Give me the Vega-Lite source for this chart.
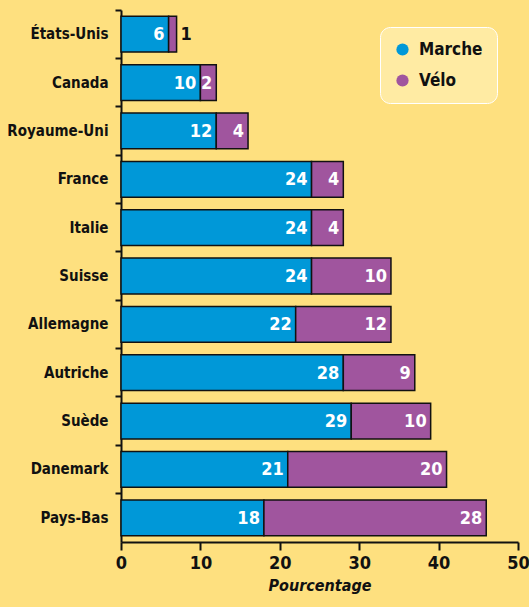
{
  "$schema": "https://vega.github.io/schema/vega-lite/v6.json",
  "autosize": "none",
  "padding": {"left": 121, "top": 10, "right": 11, "bottom": 65},
  "width": 397,
  "height": 532,
  "background": "#FEE07F",
  "config": {
    "view": {"stroke": null},
    "font": "DejaVu Sans Condensed, Liberation Sans Narrow, sans-serif",
    "axis": {"domainColor": "#111", "tickColor": "#111", "labelColor": "#111", "titleColor": "#111", "grid": false}
  },
  "data": {
    "values": [
      {"pays": "États-Unis", "mode": "Marche", "valeur": 6},
      {"pays": "États-Unis", "mode": "Vélo", "valeur": 1},
      {"pays": "Canada", "mode": "Marche", "valeur": 10},
      {"pays": "Canada", "mode": "Vélo", "valeur": 2},
      {"pays": "Royaume-Uni", "mode": "Marche", "valeur": 12},
      {"pays": "Royaume-Uni", "mode": "Vélo", "valeur": 4},
      {"pays": "France", "mode": "Marche", "valeur": 24},
      {"pays": "France", "mode": "Vélo", "valeur": 4},
      {"pays": "Italie", "mode": "Marche", "valeur": 24},
      {"pays": "Italie", "mode": "Vélo", "valeur": 4},
      {"pays": "Suisse", "mode": "Marche", "valeur": 24},
      {"pays": "Suisse", "mode": "Vélo", "valeur": 10},
      {"pays": "Allemagne", "mode": "Marche", "valeur": 22},
      {"pays": "Allemagne", "mode": "Vélo", "valeur": 12},
      {"pays": "Autriche", "mode": "Marche", "valeur": 28},
      {"pays": "Autriche", "mode": "Vélo", "valeur": 9},
      {"pays": "Suède", "mode": "Marche", "valeur": 29},
      {"pays": "Suède", "mode": "Vélo", "valeur": 10},
      {"pays": "Danemark", "mode": "Marche", "valeur": 21},
      {"pays": "Danemark", "mode": "Vélo", "valeur": 20},
      {"pays": "Pays-Bas", "mode": "Marche", "valeur": 18},
      {"pays": "Pays-Bas", "mode": "Vélo", "valeur": 28}
    ]
  },
  "transform": [
    {"stack": "valeur", "groupby": ["pays"], "sort": [{"field": "mode", "order": "ascending"}], "as": ["x0", "x1"]}
  ],
  "encoding": {
    "y": {
      "field": "pays", "type": "nominal", "sort": null,
      "scale": {"paddingInner": 0, "paddingOuter": 0},
      "axis": {
        "title": null, "bandPosition": 0, "domainWidth": 2, "tickWidth": 2, "tickSize": 6,
        "labelFontSize": 15, "labelFontWeight": "bold", "labelPadding": 7, "labelLimit": 200
      }
    }
  },
  "layer": [
    {
      "mark": {"type": "bar", "height": {"band": 0.74}, "stroke": "#111", "strokeWidth": 1.5},
      "encoding": {
        "x": {
          "field": "x0", "type": "quantitative",
          "scale": {"domain": [0, 50], "nice": false},
          "axis": {
            "title": "Pourcentage", "values": [0, 10, 20, 30, 40, 50], "labelFlush": false,
            "domainWidth": 2, "tickWidth": 2, "tickSize": 8,
            "labelFontSize": 18, "labelFontWeight": "bold", "labelPadding": 4,
            "titleFontSize": 16, "titleFontWeight": "bold", "titleFontStyle": "italic", "titlePadding": 5
          }
        },
        "x2": {"field": "x1"},
        "color": {
          "field": "mode", "type": "nominal",
          "scale": {"domain": ["Marche", "Vélo"], "range": ["#0098D8", "#A0559E"]},
          "legend": {
            "title": null, "orient": "none", "legendX": 259, "legendY": 17,
            "fillColor": "#FFEBA3", "strokeColor": "#FFFFFF", "cornerRadius": 10,
            "padding": 14, "symbolType": "circle", "symbolSize": 150, "symbolStrokeWidth": 0,
            "labelFontSize": 17, "labelFontWeight": "bold", "labelColor": "#111",
            "rowPadding": 13, "labelOffset": 8, "symbolOpacity": 1,
            "encode": {"legend": {"update": {"strokeWidth": {"value": 2.5}}}}
          }
        }
      }
    },
    {
      "transform": [{"filter": "datum.valeur >= 2"}],
      "mark": {"type": "text", "align": "right", "baseline": "middle", "dx": -4, "dy": 1, "color": "#FFFFFF", "fontSize": 18, "fontWeight": "bold"},
      "encoding": {
        "x": {"field": "x1", "type": "quantitative"},
        "text": {"field": "valeur", "type": "quantitative"}
      }
    },
    {
      "transform": [{"filter": "datum.valeur < 2"}],
      "mark": {"type": "text", "align": "left", "baseline": "middle", "dx": 4, "dy": 1, "color": "#111", "fontSize": 18, "fontWeight": "bold"},
      "encoding": {
        "x": {"field": "x1", "type": "quantitative"},
        "text": {"field": "valeur", "type": "quantitative"}
      }
    }
  ]
}
